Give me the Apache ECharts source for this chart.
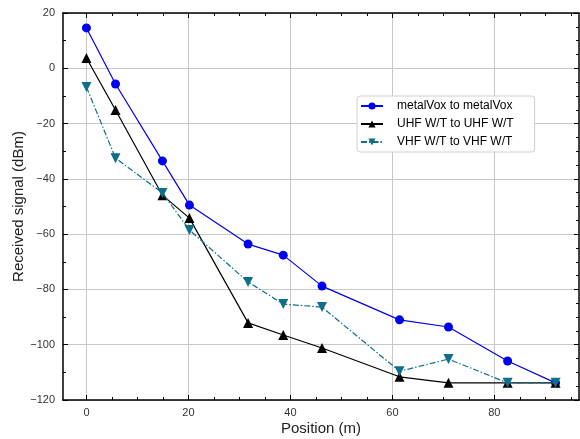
<!DOCTYPE html>
<html><head><meta charset="utf-8">
<script src="https://cdn.jsdelivr.net/npm/echarts@6/dist/echarts.min.js"></script>
<style>html,body{margin:0;padding:0;background:#fff}#c{width:580px;height:439px}</style>
</head><body><div id="c"></div>
<script>
const positions = [0, 5.7, 14.9, 20.2, 31.7, 38.6, 46.2, 61.4, 71.0, 82.6, 92.0];
const metalVox = [14.6, -5.7, -33.5, -49.5, -63.6, -67.6, -78.8, -91.0, -93.6, -105.9, -113.8];
const uhf = [3.7, -15.1, -45.9, -54.2, -92.1, -96.5, -101.2, -111.6, -113.8, -113.8, -113.8];
const vhf = [-6.8, -32.5, -45.1, -58.5, -77.3, -85.3, -86.4, -109.6, -105.2, -113.8, -113.8];
const seriesNames = ['metalVox to metalVox', 'UHF W/T to UHF W/T', 'VHF W/T to VHF W/T'];
const xMajor = [0, 20, 40, 60, 80];
const xMinor = [5, 10, 15, 25, 30, 35, 45, 50, 55, 65, 70, 75, 85, 90, 95];

const FONT = 'Liberation Sans';
const pair = (xs, ys) => xs.map((x, i) => [x, ys[i]]);
function xAxisDef(pos, major, showLabel, showSplit, name) {
  const vals = major ? xMajor : xMinor;
  return {
    type: 'value', min: -4.6, max: 96.6, gridIndex: 0,
    position: pos,
    name: name || '',
    nameLocation: 'middle',
    nameGap: 21,
    nameMoveOverlap: false,
    nameTextStyle: {fontFamily: FONT, fontSize: 15, color: '#222'},
    axisLine: {show: major, onZero: false, lineStyle: {color: '#000', width: 1.5}},
    axisTick: {show: true, inside: true, length: major ? 5 : 3, customValues: vals, lineStyle: {color: '#000', width: 1}},
    axisLabel: {show: showLabel, customValues: xMajor, fontFamily: FONT, fontSize: 11, color: '#333', margin: 7},
    splitLine: {show: showSplit, lineStyle: {color: '#c8c8c8', width: 1}},
    minorTick: {show: false}
  };
}
const minus = v => String(v).replace('-', '\u2212');
const opt = {
  animation: false,
  grid: {left: 63, right: 1, top: 13, bottom: 39, containLabel: false, outerBoundsMode: 'none'},
  legend: {
    data: seriesNames,
    orient: 'vertical', left: 357, top: 96,
    itemWidth: 22, itemHeight: 9, itemGap: 4,
    padding: [3, 21, 3, 3],
    backgroundColor: '#fff', borderColor: '#d0d0d0', borderWidth: 1, borderRadius: 3,
    textStyle: {fontFamily: FONT, fontSize: 12, lineHeight: 14, color: '#000', padding: [0, 0, 0, 9]}
  },
  xAxis: [
    xAxisDef('bottom', true, true, true, 'Position (m)'),
    xAxisDef('bottom', false, false, false),
    xAxisDef('top', true, false, false),
    xAxisDef('top', false, false, false)
  ],
  yAxis: [
    {
      type: 'value', min: -120, max: 20, interval: 20, position: 'left',
      name: 'Received signal (dBm)', nameLocation: 'middle', nameGap: 37,
      nameMoveOverlap: false,
      nameTextStyle: {fontFamily: FONT, fontSize: 15, color: '#222'},
      axisLine: {show: true, onZero: false, lineStyle: {color: '#000', width: 1.5}},
      axisTick: {show: true, inside: true, length: 5, lineStyle: {color: '#000'}},
      minorTick: {show: true, splitNumber: 2, length: 3, lineStyle: {color: '#000'}},
      axisLabel: {fontFamily: FONT, fontSize: 11, color: '#333', margin: 8, formatter: minus},
      splitLine: {show: true, lineStyle: {color: '#c8c8c8', width: 1}}
    },
    {
      type: 'value', min: -120, max: 20, interval: 20, position: 'right',
      axisLine: {show: true, onZero: false, lineStyle: {color: '#000', width: 1.5}},
      axisTick: {show: true, inside: true, length: 5, lineStyle: {color: '#000'}},
      minorTick: {show: true, splitNumber: 4, length: 3, lineStyle: {color: '#000'}},
      axisLabel: {show: false},
      splitLine: {show: false}
    }
  ],
  series: [
    {
      name: seriesNames[0], type: 'line', data: pair(positions, metalVox),
      symbol: 'circle', symbolSize: 9, color: '#0000f0',
      lineStyle: {color: '#0000f0', width: 1.2}, itemStyle: {color: '#0000f0'}, z: 3
    },
    {
      name: seriesNames[1], type: 'line', data: pair(positions, uhf),
      symbol: 'triangle', symbolSize: 10, color: '#000',
      lineStyle: {color: '#000', width: 1.2}, itemStyle: {color: '#000'}, z: 4
    },
    {
      name: seriesNames[2], type: 'line', data: pair(positions, vhf),
      symbol: 'triangle', symbolRotate: 180, symbolSize: 10, color: '#0f6e8a',
      lineStyle: {color: '#0f6e8a', width: 1.2, type: [6, 2, 1.5, 2]}, itemStyle: {color: '#0f6e8a'}, z: 5
    }
  ]
};
const chart = echarts.init(document.getElementById('c'), null, {renderer: 'canvas'});
chart.setOption(opt);
</script>
</body></html>
